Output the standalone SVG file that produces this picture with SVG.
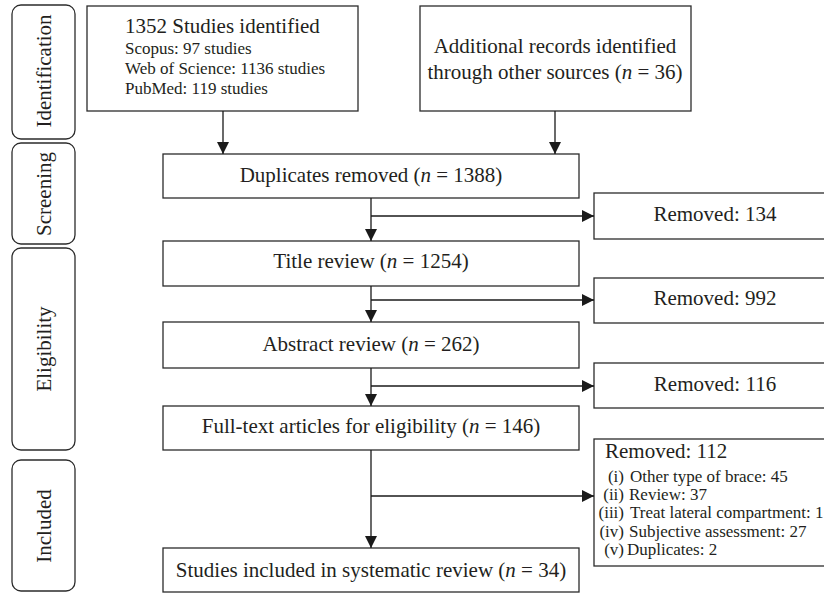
<svg xmlns="http://www.w3.org/2000/svg" width="824" height="593" viewBox="0 0 824 593">
<defs>
<style>
.box{fill:#fff;stroke:#2b2b2b;stroke-width:1.3}
.lab{fill:#fff;stroke:#2b2b2b;stroke-width:1.3}
.t{font-family:"Liberation Serif","Times New Roman",serif;font-size:21px;fill:#231f20}
.s{font-family:"Liberation Serif","Times New Roman",serif;font-size:17px;fill:#231f20}
.c{text-anchor:middle}
.e{text-anchor:end}
.i{font-style:italic}
.ln{fill:none;stroke:#1a1a1a;stroke-width:1.3}
</style>
<marker id="ah" viewBox="0 0 12 12" refX="12" refY="6" markerWidth="12" markerHeight="12" markerUnits="userSpaceOnUse" orient="auto">
<path d="M0,0 L12,6 L0,12 Z" fill="#1a1a1a"/>
</marker>
</defs>
<rect width="824" height="593" fill="#fff"/>

<g id="stage-identification">
<rect class="lab" x="12" y="5" width="63" height="134" rx="9"/>
<text class="t c" transform="translate(51,71) rotate(-90)">Identification</text>
</g>
<g id="stage-screening">
<rect class="lab" x="12" y="143" width="63" height="101" rx="9"/>
<text class="t c" transform="translate(51,194) rotate(-90)">Screening</text>
</g>
<g id="stage-eligibility">
<rect class="lab" x="12" y="248" width="63" height="202" rx="9"/>
<text class="t c" transform="translate(51,349) rotate(-90)">Eligibility</text>
</g>
<g id="stage-included">
<rect class="lab" x="12" y="460" width="63" height="131" rx="9"/>
<text class="t c" transform="translate(51,526) rotate(-90)">Included</text>
</g>

<g id="studies-identified">
<rect class="box" x="87" y="6" width="271" height="105"/>
<text class="t" x="125" y="33">1352 Studies identified</text>
<text class="s" x="125" y="54">Scopus: 97 studies</text>
<text class="s" x="125" y="74">Web of Science: 1136 studies</text>
<text class="s" x="125" y="94">PubMed: 119 studies</text>
</g>

<g id="additional-records">
<rect class="box" x="420" y="6" width="271" height="105"/>
<text class="t c" x="555" y="53">Additional records identified</text>
<text class="t c" x="555" y="79">through other sources (<tspan class="i">n</tspan> = 36)</text>
</g>

<g id="duplicates-removed">
<rect class="box" x="163" y="154" width="416" height="44"/>
<text class="t c" x="371" y="182">Duplicates removed (<tspan class="i">n</tspan> = 1388)</text>
</g>

<g id="title-review">
<rect class="box" x="163" y="241" width="416" height="45"/>
<text class="t c" x="371" y="268">Title review (<tspan class="i">n</tspan> = 1254)</text>
</g>

<g id="abstract-review">
<rect class="box" x="163" y="322" width="416" height="46"/>
<text class="t c" x="371" y="351">Abstract review (<tspan class="i">n</tspan> = 262)</text>
</g>

<g id="full-text">
<rect class="box" x="163" y="406" width="416" height="44"/>
<text class="t c" x="371" y="433">Full-text articles for eligibility (<tspan class="i">n</tspan> = 146)</text>
</g>

<g id="studies-included">
<rect class="box" x="163" y="548" width="416" height="44"/>
<text class="t c" x="371" y="577">Studies included in systematic review (<tspan class="i">n</tspan> = 34)</text>
</g>

<g id="removed-134">
<rect class="box" x="594" y="193" width="240" height="46"/>
<text class="t c" x="715" y="221">Removed: 134</text>
</g>

<g id="removed-992">
<rect class="box" x="594" y="278" width="240" height="45"/>
<text class="t c" x="715" y="305">Removed: 992</text>
</g>

<g id="removed-116">
<rect class="box" x="594" y="363" width="240" height="45"/>
<text class="t c" x="715" y="391">Removed: 116</text>
</g>

<g id="removed-112">
<rect class="box" x="594" y="439" width="240" height="127"/>
<text class="t" x="605" y="458">Removed: 112</text>
<text class="s e" x="624" y="482">(i)</text><text class="s" x="630" y="482">Other type of brace: 45</text>
<text class="s e" x="624" y="500">(ii)</text><text class="s" x="629" y="500">Review: 37</text>
<text class="s e" x="624" y="518">(iii)</text><text class="s" x="630" y="518">Treat lateral compartment: 1</text>
<text class="s e" x="624" y="537">(iv)</text><text class="s" x="629" y="537">Subjective assessment: 27</text>
<text class="s e" x="624" y="555">(v)</text><text class="s" x="627" y="555">Duplicates: 2</text>
</g>

<g id="connectors">
<line class="ln" x1="223" y1="111" x2="223" y2="154" marker-end="url(#ah)"/>
<line class="ln" x1="555" y1="111" x2="555" y2="154" marker-end="url(#ah)"/>
<line class="ln" x1="371" y1="198" x2="371" y2="241" marker-end="url(#ah)"/>
<line class="ln" x1="371" y1="216" x2="594" y2="216" marker-end="url(#ah)"/>
<line class="ln" x1="371" y1="286" x2="371" y2="322" marker-end="url(#ah)"/>
<line class="ln" x1="371" y1="300" x2="594" y2="300" marker-end="url(#ah)"/>
<line class="ln" x1="371" y1="368" x2="371" y2="406" marker-end="url(#ah)"/>
<line class="ln" x1="371" y1="386" x2="594" y2="386" marker-end="url(#ah)"/>
<line class="ln" x1="371" y1="450" x2="371" y2="548" marker-end="url(#ah)"/>
<line class="ln" x1="371" y1="496" x2="594" y2="496" marker-end="url(#ah)"/>
</g>
</svg>
